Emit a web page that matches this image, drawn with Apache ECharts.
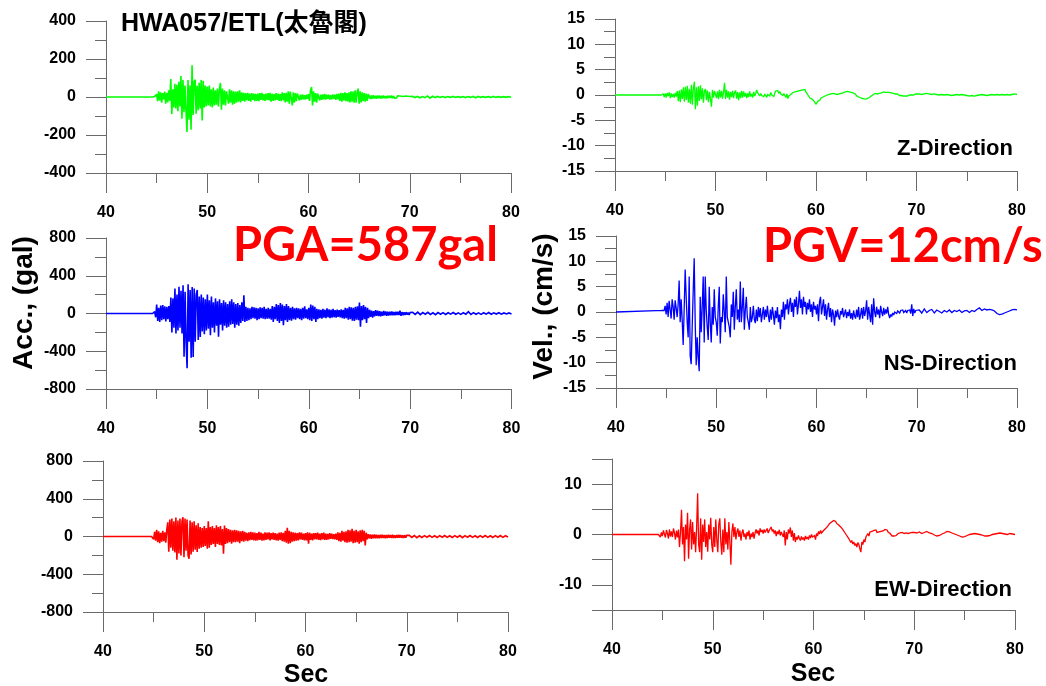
<!DOCTYPE html>
<html>
<head>
<meta charset="utf-8">
<script src="https://cdn.jsdelivr.net/npm/echarts@6/dist/echarts.min.js"></script>
<style>html,body{margin:0;padding:0;background:#fff}#chart{width:1046px;height:686px}</style>
</head>
<body>
<div id="chart"></div>
<script>
// ---- sampling of the traces (seconds) ----
const preEventTime = 40;
const mainStart = 44.0, mainStep = 0.1;   // 44.0 .. 70.0
const tailStart = 70.25, tailStep = 0.25; // 70.25 .. 80.0

// tick labels
const timeTicks = [40, 50, 60, 70, 80];

// ---- Z acceleration (gal) ----
const zAccPre = 0;
const zAccMain = [
 0,0,0,0,0,0,0,0,3,-6,
 14,-22,30,-18,25,-30,20,-12,28,-35,
 22,-28,35,-20,95,-90,40,-55,70,-60,
 65,-75,80,-50,110,-115,90,-80,60,-70,
 -184,90,-120,60,-172,167,-95,80,91,-88,
 60,-70,75,-60,90,-123,85,-55,60,-50,
 55,-45,60,-50,40,-55,50,-45,35,-40,
 45,-50,40,74,-67,45,-40,35,-45,30,
 38,-35,40,-30,35,-40,30,-35,28,-30,
 30,-25,35,-28,25,-20,22,-25,20,-18,
 22,-20,18,-25,20,-15,18,-22,16,-20,
 18,-22,20,-15,22,-18,15,-20,18,-16,
 20,-18,22,-25,18,-20,15,-18,20,-15,
 18,-20,15,-22,25,-18,20,-28,22,-25,
 30,-35,28,35,-44,25,-30,20,-22,18,
 15,-18,12,-15,14,-12,10,-14,12,-10,
 15,-20,35,53,-44,30,-25,20,-30,18,
 15,-18,12,-15,14,-12,16,-14,12,-10,
 12,-14,10,-12,14,-10,12,-15,16,-12,
 18,-20,22,-25,20,-18,24,-22,20,-25,
 25,-28,30,-25,28,-30,35,-30,25,44,
 -35,30,-28,25,-22,20,-25,18,-20,15,
 12,-10,8,-10,9,-8,7,-9,8,-6,
 7,-8,6,-7,8,-6,5,-7,6,-5,
 6,-5,7,-6,5,-6,4,-5,6,-4,
 5,-4,4,-5,3,-4,5,-3,4,-4,
 3];
const zAccTail = [4,-3,3,-4,2,-3,5,-6,4,-3, 3,-2,2,-3,2,-2,3,-2,2,-2, 2,-3,2,-2,3,-4,3,-2,2,-2, 2,-2,3,-2,2,-2,2,-2,2,-1];

// ---- NS acceleration (gal) ----
const nsAccPre = 0;
const nsAccMain = [
 0,0,0,0,0,0,0,0,20,-40,
 95,-80,60,-90,85,-70,90,-60,75,-85,
 70,-60,80,-90,170,-200,160,-150,264,-211,
 200,-180,282,-150,240,-211,300,-458,230,-300,
 -581,310,-300,250,-470,280,-460,264,-300,200,
 250,-280,180,-250,200,-190,170,-220,150,-180,
 200,-160,140,-229,180,-150,120,-200,160,-130,
 130,-246,150,-120,110,-180,140,-130,120,-150,
 100,-140,130,-120,150,-110,120,-150,100,-120,
 110,-130,90,-100,120,-80,194,-90,70,-80,
 60,-70,55,-60,70,-50,65,-55,60,-70,
 55,-60,65,-50,60,-55,70,-60,50,-55,
 60,-55,50,-65,80,-90,70,-60,100,-80,
 90,-100,110,-80,95,-123,80,-70,100,-90,
 80,-70,60,-75,70,-60,55,-65,60,-50,
 55,-60,50,-70,60,-55,75,-50,45,-60,
 60,-70,95,-80,85,-60,70,-90,50,-60,
 45,-50,40,-55,50,-45,40,-50,55,-40,
 45,-50,40,-45,50,-40,35,-45,40,-35,
 35,-40,45,-50,40,-55,60,-50,55,-65,
 70,-60,65,-75,60,-80,70,-65,75,-70,
 116,-141,80,-70,90,-60,70,-100,60,-50,
 40,-35,30,-45,25,-30,35,-25,30,-28,
 25,-30,20,-25,28,-20,22,-25,20,-22,
 18,-20,22,-18,15,-20,18,-15,20,-16,
 30,-25,15,-18,12,-15,14,-12,10,-14,
 10];
const nsAccTail = [12,-10,15,-12,10,-8,12,-10,8,-12, 10,-8,9,-10,8,-7,10,-8,7,-9, 8,-7,20,-10,9,-8,7,-9,8,-7, 10,-8,7,-6,8,-7,6,-5,6,-5];

// ---- EW acceleration (gal) ----
const ewAccPre = 0;
const ewAccMain = [
 0,0,0,0,0,0,0,0,0,10,
 -30,50,-45,70,-60,55,-70,40,-55,60,
 -50,45,-65,70,150,-160,180,-120,190,-150,
 160,-170,200,-246,170,-180,190,-200,160,204,
 -220,190,-150,180,-200,-236,170,-190,150,-160,
 160,-140,120,-165,141,-130,100,-120,90,-110,
 110,-100,90,-130,162,-120,100,-90,110,-80,
 90,-110,120,-80,100,-90,110,-95,80,-183,
 116,-80,90,-70,80,-60,70,-75,65,-60,
 70,-60,65,-55,60,-70,55,-50,60,-55,
 50,-45,40,-50,45,-40,50,-35,45,-40,
 40,-45,35,-40,50,-35,40,-45,30,-40,
 45,-35,40,-30,45,-40,35,-30,40,-35,
 35,-40,30,-45,40,-35,45,-50,40,-55,
 60,-65,92,-77,60,-70,50,-55,45,-50,
 40,-45,35,-40,45,-30,40,-35,30,-40,
 35,-40,45,-75,40,-35,30,-40,35,-30,
 35,-30,40,-35,30,-38,35,-30,40,-35,
 30,-35,28,-30,35,-25,30,-28,25,-30,
 30,-35,45,-50,40,-55,60,-45,50,-60,
 55,-65,70,-60,65,-55,81,-70,60,-65,
 70,-60,55,-75,65,-60,70,-50,60,-95,
 40,-30,25,-20,22,-25,18,-20,22,-18,
 20,-18,15,-20,18,-15,20,-16,15,-18,
 16,-15,18,-14,15,-16,20,-15,14,-16,
 15,-14,18,-12,16,-14,12,-15,14,-12,
 12];
const ewAccTail = [12,-10,10,-12,8,-10,9,-8,10,-9, 8,-10,9,-8,10,-9,8,-10,9,-8, 10,-12,9,-8,10,-9,8,-10,9,-8, 10,-9,8,-10,9,-8,10,-9,8,-5];

// ---- Z velocity (cm/s) ----
const zVelPre = 0;
const zVelMain = [
 0,0,0,0,0,0,0,0,0.2,-0.4,
 0.3,-0.5,0.4,-0.2,0.5,-0.6,0.3,-0.4,0.2,-0.5,
 0.4,-0.3,0.8,-1.2,0.9,-1.4,1.1,-0.8,1.5,-1.3,
 1.6,-1.0,1.8,-1.5,1.2,-1.7,2.0,-1.9,1.4,2.6,
 -2.8,1.5,-2.1,1.7,-1.2,1.9,-0.9,1.3,-1.5,0.8,
 1.2,-1.0,0.9,-1.4,0.6,-0.8,-2.3,1.0,-0.5,0.8,
 0.9,-0.6,0.7,-0.8,1.0,-0.5,0.8,-0.7,0.6,2.4,
 -0.8,1.0,-0.5,0.7,-0.9,0.6,-0.4,0.8,-0.6,0.5,
 0.9,-0.7,0.6,-1.0,0.5,-0.6,0.8,-0.5,0.7,-0.3,
 0.4,-0.6,0.3,-0.4,0.7,-0.3,0.2,-0.5,0.6,-0.2,
 0.3,1.0,0.4,0.1,-0.2,0.3,-0.1,0.2,-0.3,0.1,
 0.2,-0.4,0.1,0.3,-0.2,0.5,0.0,0.2,-0.3,0.4,
 0.8,0.5,0.9,0.3,0.7,0.2,0.5,-0.1,0.3,0.0,
 -0.5,0.2,-0.7,-0.2,-0.4,0.1,0.2,0.5,0.3,0.6,
 0.4,0.7,0.5,0.8,0.6,0.9,0.7,1.0,0.8,1.1,
 0.6,0.3,0.0,-0.3,-0.6,-0.4,-0.8,-1.0,-1.2,-1.4,
 -1.8,-1.5,-1.2,-0.9,-1.0,-0.6,-0.7,-0.4,-0.5,-0.2,
 -0.3,0.0,-0.2,0.1,-0.1,0.2,0.0,0.3,0.1,0.2,
 0.3,0.1,0.4,0.2,0.5,0.3,0.6,0.4,0.5,0.6,
 0.4,0.7,0.5,0.6,0.4,0.5,0.3,0.4,0.1,0.2,
 -0.1,-0.3,-0.5,-0.4,-0.7,-0.6,-0.9,-0.7,-1.0,-0.8,
 -1.1,-0.7,-0.9,-0.5,-0.6,-0.2,-0.3,0.1,0.0,0.3,
 0.4,0.2,0.5,0.3,0.6,0.4,0.5,0.6,0.4,0.5,
 0.6,0.5,0.4,0.5,0.6,0.4,0.5,0.3,0.4,0.2,
 0.1,0.2,0.0,-0.1,-0.2,-0.1,-0.3,-0.2,-0.3,-0.2,
 -0.3,-0.2,-0.1,0.0,-0.1,0.0,0.1,0.0,0.1,0.2,
 0.1];
const zVelTail = [0.2,0.1,0.2,0.3,0.2,0.1,0.2,0.1,0.0,0.1, 0.0,0.1,0.0,-0.1,0.0,0.1,0.0,0.1,0.0,-0.1, -0.2,-0.1,-0.2,-0.1,0.0,0.1,0.0,-0.1,0.0,0.1, 0.0,0.1,0.0,0.1,0.0,0.1,0.0,0.1,0.2,0.1];

// ---- NS velocity (cm/s) ----
const nsVelPre = 0;
const nsVelMain = [
 0.26,0.27,0.27,0.28,0.28,0.29,0.3,0.3,0.3,1.2,
 -0.5,1.8,-1.0,2.2,0.5,-1.3,2.5,1.0,-1.5,2.3,
 0.8,-1.0,1.5,6.2,-2.0,2.5,-1.5,-6.5,0.5,8.4,
 3.0,-2.0,-5.0,7.0,-8.7,-10.3,-3.0,4.0,10.6,-2.0,
 -10.5,-5.0,-9.0,-11.7,3.0,-4.0,1.0,7.0,-6.0,7.0,
 0.5,-3.0,-5.5,5.0,-2.0,-6.0,1.0,-2.5,4.5,-1.0,
 -2.0,-4.7,1.0,5.0,-6.2,-1.0,-2.0,3.5,0.0,-4.0,
 7.0,-1.0,-2.0,-3.0,-5.0,1.5,-1.0,4.0,-3.5,1.0,
 4.5,-1.5,0.5,-2.0,6.0,-2.0,1.0,4.8,-3.5,0.5,
 3.0,-1.0,-2.0,-3.5,1.0,-2.0,-1.0,1.2,-1.5,-2.2,
 0.5,-1.8,1.0,-1.0,0.8,-2.0,-0.5,1.0,-1.5,0.5,
 -1.0,1.2,-0.8,-2.0,0.5,-1.5,1.0,-0.5,-2.5,0.3,
 -1.2,1.0,-2.0,-0.5,-3.4,0.5,-1.0,2.0,-1.5,1.5,
 0.5,2.5,-0.5,1.5,2.8,0.0,1.8,-1.0,2.5,1.0,
 3.0,-0.5,1.5,4.2,0.8,2.5,-0.5,3.0,1.0,2.0,
 -0.5,1.8,0.5,2.5,0.0,1.5,-1.0,2.0,0.5,1.2,
 -0.5,1.5,-1.8,2.0,3.0,-0.5,1.0,2.5,-0.8,1.5,
 -1.5,0.5,1.8,-1.0,0.8,-2.0,0.5,-0.5,-2.7,0.3,
 -1.0,0.5,-0.8,-1.5,0.2,-0.5,0.8,-1.0,-0.3,0.5,
 -1.2,0.0,-0.8,0.5,-1.3,-0.2,-1.5,0.3,-0.8,-1.3,
 0.5,-1.0,1.0,-1.5,-0.5,0.8,-1.3,1.0,-0.8,0.2,
 2.3,-1.5,1.0,-0.5,-2.0,1.5,-2.5,2.7,0.0,-1.0,
 1.0,-0.5,0.5,-1.2,1.2,0.0,-0.8,0.8,-0.5,0.5,
 -0.3,1.0,-0.5,-1.2,-0.5,-0.9,-0.2,-0.6,0.0,0.3,
 -0.3,0.2,0.5,-0.2,0.3,0.0,0.4,-0.1,0.2,0.3,
 -0.2,0.3,0.0,0.4,-0.3,1.5,-0.8,0.6,-0.2,0.3,
 0.1];
const nsVelTail = [0.4,-0.2,0.6,-0.1,0.3,0.5,-0.2,0.4,0.1,-0.2, 0.3,0.0,0.4,-0.1,0.3,0.1,0.4,-0.1,0.2,0.3, -0.1,0.3,0.1,0.5,0.8,0.3,0.6,0.4,0.5,0.4, 0.2,-0.3,-0.5,-0.4,-0.2,0.0,0.2,0.4,0.5,0.4];

// ---- EW velocity (cm/s) ----
const ewVelPre = 0;
const ewVelMain = [
 0,0,0,0,0,0,0,0.3,-0.5,0.4,
 -0.3,0.8,0.1,-0.6,0.9,0.2,-0.8,1.0,-0.4,0.6,
 -0.5,1.2,0.3,-1.0,0.8,-0.6,1.0,-2.5,0.5,4.9,
 -2.0,1.5,-5.3,2.0,-1.0,4.3,-4.8,1.0,3.0,-3.0,
 2.5,-2.0,0.5,-3.5,1.5,8.2,-2.0,-3.5,3.2,-5.0,
 2.0,-1.5,3.0,-2.5,0.5,-3.4,2.0,-1.0,3.3,-2.0,
 -3.5,1.5,-2.5,3.0,-1.0,-3.5,2.0,3.2,-1.5,-4.0,
 1.0,-3.5,3.2,-2.0,0.5,-3.0,2.5,-1.5,-6.0,0.5,
 2.2,-0.5,1.5,-1.0,0.5,1.2,-0.5,0.8,-1.2,0.3,
 1.0,-0.5,0.2,-1.0,0.5,-0.3,0.8,-1.0,0.2,-0.5,
 0.5,-0.8,0.3,1.0,0.2,0.8,-0.2,1.2,0.5,0.9,
 0.2,1.0,0.4,0.7,1.2,0.3,0.8,0.5,1.5,0.6,
 1.0,0.2,0.8,-0.3,0.6,0.1,0.9,-0.2,0.5,0.3,
 -0.5,0.8,-2.2,0.5,-1.0,1.0,0.2,1.4,-0.5,0.8,
 -1.2,0.3,-1.5,-0.5,-1.0,-0.2,-0.8,-1.2,-0.4,-1.0,
 -0.6,-1.2,-0.3,-0.9,-0.5,-1.0,-0.2,-0.7,0.0,-0.5,
 -0.8,-0.2,-1.0,0.2,-0.3,0.6,0.1,0.8,0.3,0.5,
 0.8,0.5,1.2,1.0,1.6,1.8,2.2,2.0,2.5,2.3,
 2.8,2.5,2.6,2.2,2.4,1.9,2.0,1.5,1.6,1.0,
 0.8,0.4,0.3,-0.2,-0.5,-0.8,-1.0,-1.6,-1.2,-1.9,
 -1.5,-2.2,-1.8,-2.5,-1.6,-2.0,-2.8,-3.5,-1.5,-2.0,
 -1.0,-1.5,-0.5,-0.8,0.2,-0.3,0.5,0.2,0.6,0.3,
 0.8,0.5,0.9,0.4,0.7,0.5,0.8,0.6,0.9,0.7,
 0.8,1.0,0.7,0.9,0.5,0.6,0.2,0.0,-0.3,-0.5,
 -0.3,-0.5,-0.2,0.0,0.2,0.1,0.3,0.2,0.4,0.3,
 0.2,0.4,0.3,0.5,0.2,0.4,0.3,0.6,0.4,0.3,
 0.4];
const ewVelTail = [0.3,0.5,0.2,0.4,0.6,0.3,0.2,-0.1,-0.3,-0.2, 0.1,0.3,0.6,0.5,0.3,0.1,-0.1,-0.3,-0.5,-0.4, -0.2,0.0,0.1,0.2,0.1,0.0,-0.1,-0.3,-0.3,-0.2, 0.0,0.1,0.2,0.3,0.2,0.1,0.0,0.2,0.1,0.0];

// ---- build [t, v] pairs ----
function buildTrace(pre, main, tail) {
  const out = [[preEventTime, pre]];
  main.forEach((v, i) => out.push([+(mainStart + i * mainStep).toFixed(2), v]));
  tail.forEach((v, i) => out.push([+(tailStart + i * tailStep).toFixed(2), v]));
  return out;
}

const AXIS_COLOR = '#6a6a6a';
const LABEL_FONT = { color: '#000', fontFamily: '"Liberation Sans", Arial, sans-serif', fontWeight: 'bold', fontSize: 16 };

const grids = [
  { left: 106, top: 21, width: 405, height: 152 },
  { left: 106, top: 238, width: 405.5, height: 151 },
  { left: 103, top: 461, width: 405, height: 151 },
  { left: 615, top: 19, width: 402, height: 152 },
  { left: 616, top: 236, width: 401, height: 152 },
  { left: 612, top: 459, width: 403, height: 151 }
];

const yRanges = [
  { min: -400, max: 400, interval: 200, minor: true },
  { min: -800, max: 800, interval: 400, minor: true },
  { min: -800, max: 800, interval: 400, minor: true },
  { min: -15, max: 15, interval: 5, minor: true },
  { min: -15, max: 15, interval: 5, minor: true },
  { min: -15, max: 15, interval: 5, minor: false, every10: true }
];

const traces = [
  { data: buildTrace(zAccPre, zAccMain, zAccTail), color: '#00ff00', width: 1.6 },
  { data: buildTrace(nsAccPre, nsAccMain, nsAccTail), color: '#0000ff', width: 1.6 },
  { data: buildTrace(ewAccPre, ewAccMain, ewAccTail), color: '#ff0000', width: 1.6 },
  { data: buildTrace(zVelPre, zVelMain, zVelTail), color: '#00ff00', width: 1.3 },
  { data: buildTrace(nsVelPre, nsVelMain, nsVelTail), color: '#0000ff', width: 1.3 },
  { data: buildTrace(ewVelPre, ewVelMain, ewVelTail), color: '#ff0000', width: 1.3 }
];

const xAxes = grids.map((g, i) => ({
  type: 'value', gridIndex: i,
  min: timeTicks[0], max: timeTicks[timeTicks.length - 1], interval: timeTicks[1] - timeTicks[0],
  axisLine: { show: true, onZero: false, lineStyle: { color: AXIS_COLOR, width: 1 } },
  axisTick: { show: true, inside: false, length: 20, lineStyle: { color: AXIS_COLOR, width: 1 } },
  minorTick: { show: true, splitNumber: 2, length: 10, lineStyle: { color: AXIS_COLOR, width: 1 } },
  splitLine: { show: false },
  axisLabel: Object.assign({ margin: 32 }, LABEL_FONT)
}));

const yAxes = yRanges.map((r, i) => ({
  type: 'value', gridIndex: i, min: r.min, max: r.max, interval: r.interval,
  axisLine: { show: true, onZero: false, lineStyle: { color: AXIS_COLOR, width: 1 } },
  axisTick: { show: true, inside: false, length: 20, lineStyle: { color: AXIS_COLOR, width: 1 } },
  minorTick: { show: r.minor, splitNumber: 2, length: 11, lineStyle: { color: AXIS_COLOR, width: 1 } },
  splitLine: { show: false },
  axisLabel: Object.assign({
    margin: 30,
    formatter: r.every10 ? (v => (v % 10 === 0 ? String(v) : '')) : (v => String(v))
  }, LABEL_FONT)
}));

const series = traces.map((t, i) => ({
  type: 'line', xAxisIndex: i, yAxisIndex: i, data: t.data,
  showSymbol: false, symbol: 'none', animation: false,
  lineStyle: { color: t.color, width: t.width, join: 'miter', miterLimit: 2 }, itemStyle: { color: t.color }
}));

const TXT = '"Liberation Sans", Arial, "Noto Sans CJK TC", sans-serif';
const graphic = [
  { type: 'text', x: 121, y: 24, style: { text: 'HWA057/ETL(太魯閣)', fontFamily: TXT, fontWeight: 'bold', fontSize: 25, fill: '#000', align: 'left', verticalAlign: 'middle' } },
  { type: 'text', x: 233, y: 246, style: { text: 'PGA=587gal', fontFamily: 'Lato, "Open Sans", sans-serif', fontWeight: 'bold', fontSize: 47, fill: '#ff0000', align: 'left', verticalAlign: 'middle' } },
  { type: 'text', x: 763, y: 247, style: { text: 'PGV=12cm/s', fontFamily: 'Lato, "Open Sans", sans-serif', fontWeight: 'bold', fontSize: 47, fill: '#ff0000', align: 'left', verticalAlign: 'middle' } },
  { type: 'text', x: 1013, y: 148.5, style: { text: 'Z-Direction', fontFamily: TXT, fontWeight: 'bold', fontSize: 22, fill: '#000', align: 'right', verticalAlign: 'middle' } },
  { type: 'text', x: 1017, y: 363.5, style: { text: 'NS-Direction', fontFamily: TXT, fontWeight: 'bold', fontSize: 22, fill: '#000', align: 'right', verticalAlign: 'middle' } },
  { type: 'text', x: 1012, y: 590, style: { text: 'EW-Direction', fontFamily: TXT, fontWeight: 'bold', fontSize: 22, fill: '#000', align: 'right', verticalAlign: 'middle' } },
  { type: 'text', x: 24.5, y: 303, rotation: Math.PI / 2, style: { text: 'Acc., (gal)', fontFamily: TXT, fontWeight: 'bold', fontSize: 28, fill: '#000', align: 'center', verticalAlign: 'middle' } },
  { type: 'text', x: 544, y: 306.5, rotation: Math.PI / 2, style: { text: 'Vel., (cm/s)', fontFamily: TXT, fontWeight: 'bold', fontSize: 28, fill: '#000', align: 'center', verticalAlign: 'middle' } },
  { type: 'text', x: 306, y: 675, style: { text: 'Sec', fontFamily: TXT, fontWeight: 'bold', fontSize: 25, fill: '#000', align: 'center', verticalAlign: 'middle' } },
  { type: 'text', x: 813, y: 674, style: { text: 'Sec', fontFamily: TXT, fontWeight: 'bold', fontSize: 25, fill: '#000', align: 'center', verticalAlign: 'middle' } }
];

const chart = echarts.init(document.getElementById('chart'), null, { renderer: 'canvas' });
chart.setOption({
  animation: false,
  backgroundColor: '#fff',
  grid: grids,
  xAxis: xAxes,
  yAxis: yAxes,
  series: series,
  graphic: graphic
});
</script>
</body>
</html>
